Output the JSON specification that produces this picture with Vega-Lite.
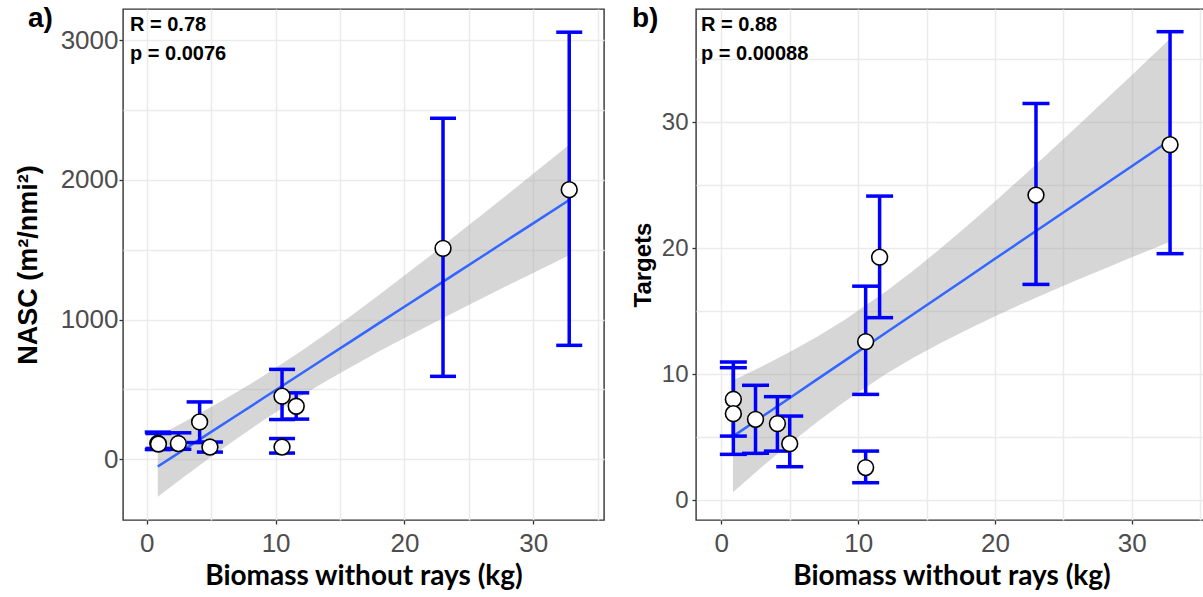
{
  "$schema": "https://vega.github.io/schema/vega-lite/v6.json",
  "background": "white",
  "padding": {"left": 13, "top": 4, "right": 0, "bottom": 0},
  "spacing": 92,
  "bounds": "flush",
  "config": {
    "view": {"stroke": "#333333", "strokeWidth": 1.4},
    "axis": {
      "grid": true, "gridColor": "#EBEBEB", "gridWidth": 1.5,
      "domain": false, "tickColor": "#333333", "tickSize": 4, "tickWidth": 1.3,
      "labelColor": "#4D4D4D", "labelFont": "Liberation Sans", "labelFontSize": 26,
      "labelOverlap": false, "labelFlush": false,
      "titleFont": "Liberation Sans", "titleFontWeight": "bold", "titleColor": "black"
    },
    "title": {"font": "Liberation Sans", "fontWeight": "bold", "fontSize": 28, "color": "black", "anchor": "start", "frame": "group", "offset": 0}
  },
  "datasets": {
    "ptsA": [
      {"biomass": 0.85, "nasc": 115, "lo": 70, "hi": 195},
      {"biomass": 0.9, "nasc": 110, "lo": 78, "hi": 185},
      {"biomass": 2.45, "nasc": 113, "lo": 72, "hi": 190},
      {"biomass": 4.1, "nasc": 268, "lo": 120, "hi": 411},
      {"biomass": 4.9, "nasc": 88, "lo": 52, "hi": 124},
      {"biomass": 10.5, "nasc": 88, "lo": 45, "hi": 149},
      {"biomass": 10.5, "nasc": 452, "lo": 285, "hi": 644},
      {"biomass": 11.6, "nasc": 380, "lo": 288, "hi": 476},
      {"biomass": 23.0, "nasc": 1510, "lo": 594, "hi": 2441},
      {"biomass": 32.8, "nasc": 1930, "lo": 816, "hi": 3057}
    ],
    "fitA": [
      {"biomass": 0.85, "fit": -51, "lo": -268, "hi": 166},
      {"biomass": 3, "fit": 77, "lo": -118, "hi": 272},
      {"biomass": 5, "fit": 197, "lo": 19, "hi": 375},
      {"biomass": 7, "fit": 316, "lo": 150, "hi": 482},
      {"biomass": 9, "fit": 435, "lo": 276, "hi": 594},
      {"biomass": 12, "fit": 614, "lo": 453, "hi": 775},
      {"biomass": 14, "fit": 734, "lo": 564, "hi": 904},
      {"biomass": 16, "fit": 853, "lo": 669, "hi": 1037},
      {"biomass": 18, "fit": 973, "lo": 771, "hi": 1175},
      {"biomass": 20, "fit": 1092, "lo": 869, "hi": 1315},
      {"biomass": 22, "fit": 1211, "lo": 964, "hi": 1458},
      {"biomass": 24, "fit": 1331, "lo": 1059, "hi": 1603},
      {"biomass": 26, "fit": 1450, "lo": 1151, "hi": 1749},
      {"biomass": 28, "fit": 1570, "lo": 1244, "hi": 1896},
      {"biomass": 30, "fit": 1689, "lo": 1334, "hi": 2044},
      {"biomass": 32.8, "fit": 1856, "lo": 1461, "hi": 2251}
    ],
    "ptsB": [
      {"biomass": 0.88, "targets": 8.02, "lo": 5.10, "hi": 10.98},
      {"biomass": 0.88, "targets": 6.88, "lo": 3.65, "hi": 10.53},
      {"biomass": 2.5, "targets": 6.43, "lo": 3.73, "hi": 9.13},
      {"biomass": 4.1, "targets": 6.09, "lo": 3.91, "hi": 8.23},
      {"biomass": 5.0, "targets": 4.50, "lo": 2.67, "hi": 6.69},
      {"biomass": 10.55, "targets": 2.60, "lo": 1.40, "hi": 3.91},
      {"biomass": 10.55, "targets": 12.6, "lo": 8.41, "hi": 17.0},
      {"biomass": 11.57, "targets": 19.3, "lo": 14.5, "hi": 24.15},
      {"biomass": 23.0, "targets": 24.23, "lo": 17.14, "hi": 31.5},
      {"biomass": 32.8, "targets": 28.23, "lo": 19.58, "hi": 37.2}
    ],
    "fitB": [
      {"biomass": 0.85, "fit": 5.08, "lo": 0.65, "hi": 9.51},
      {"biomass": 3, "fit": 6.66, "lo": 2.68, "hi": 10.64},
      {"biomass": 5, "fit": 8.13, "lo": 4.49, "hi": 11.77},
      {"biomass": 7, "fit": 9.60, "lo": 6.21, "hi": 12.99},
      {"biomass": 9, "fit": 11.07, "lo": 7.82, "hi": 14.32},
      {"biomass": 12, "fit": 13.28, "lo": 10.00, "hi": 16.56},
      {"biomass": 14, "fit": 14.75, "lo": 11.29, "hi": 18.21},
      {"biomass": 16, "fit": 16.22, "lo": 12.47, "hi": 19.97},
      {"biomass": 18, "fit": 17.69, "lo": 13.57, "hi": 21.81},
      {"biomass": 20, "fit": 19.17, "lo": 14.62, "hi": 23.72},
      {"biomass": 22, "fit": 20.64, "lo": 15.61, "hi": 25.67},
      {"biomass": 24, "fit": 22.11, "lo": 16.56, "hi": 27.66},
      {"biomass": 26, "fit": 23.58, "lo": 17.49, "hi": 29.67},
      {"biomass": 28, "fit": 25.05, "lo": 18.39, "hi": 31.71},
      {"biomass": 30, "fit": 26.52, "lo": 19.29, "hi": 33.75},
      {"biomass": 32.8, "fit": 28.58, "lo": 20.52, "hi": 36.64}
    ],
    "labA": [{"stat": "R = 0.78", "row": 0}, {"stat": "p = 0.0076", "row": 1}],
    "labB": [{"stat": "R = 0.88", "row": 0}, {"stat": "p = 0.00088", "row": 1}]
  },
  "hconcat": [
    {
      "width": 481, "height": 511,
      "title": {"text": "a)", "dx": -95, "dy": 28},
      "layer": [
        {
          "data": {"name": "fitA"},
          "mark": {"type": "area", "color": "#999999", "opacity": 0.4},
          "encoding": {
            "x": {"field": "biomass", "type": "quantitative",
              "scale": {"domain": [-1.85, 35.5], "nice": false, "zero": false},
              "axis": {"values": [0, 5, 10, 15, 20, 25, 30, 35],
                "labelExpr": "datum.value % 10 === 0 ? datum.label : ''",
                "tickOpacity": {"condition": {"test": "datum.value % 10 !== 0", "value": 0}, "value": 1},
                "labelPadding": 6, "title": "Biomass without rays (kg)",
                "titleFont": "Lato", "titleFontSize": 28, "titlePadding": 6}},
            "y": {"field": "lo", "type": "quantitative",
              "scale": {"domain": [-434, 3223], "nice": false, "zero": false},
              "axis": {"values": [0, 500, 1000, 1500, 2000, 2500, 3000],
                "labelExpr": "datum.value % 1000 === 0 ? datum.label : ''",
                "tickOpacity": {"condition": {"test": "datum.value % 1000 !== 0", "value": 0}, "value": 1},
                "format": "d", "labelPadding": 1, "title": "NASC (m²/nmi²)",
                "titleFontSize": 27, "titlePadding": 18}},
            "y2": {"field": "hi"}
          }
        },
        {
          "data": {"name": "fitA"},
          "mark": {"type": "line", "color": "#3366FF", "strokeWidth": 2.5},
          "encoding": {
            "x": {"field": "biomass", "type": "quantitative"},
            "y": {"field": "fit", "type": "quantitative"}
          }
        },
        {
          "data": {"name": "ptsA"},
          "mark": {"type": "rule", "color": "#0000FF", "strokeWidth": 3.5},
          "encoding": {
            "x": {"field": "biomass", "type": "quantitative"},
            "y": {"field": "lo", "type": "quantitative"},
            "y2": {"field": "hi"}
          }
        },
        {
          "data": {"name": "ptsA"},
          "mark": {"type": "tick", "orient": "horizontal", "color": "#0000FF", "thickness": 3.5, "size": 26, "opacity": 1},
          "encoding": {
            "x": {"field": "biomass", "type": "quantitative"},
            "y": {"field": "lo", "type": "quantitative"}
          }
        },
        {
          "data": {"name": "ptsA"},
          "mark": {"type": "tick", "orient": "horizontal", "color": "#0000FF", "thickness": 3.5, "size": 26, "opacity": 1},
          "encoding": {
            "x": {"field": "biomass", "type": "quantitative"},
            "y": {"field": "hi", "type": "quantitative"}
          }
        },
        {
          "data": {"name": "ptsA"},
          "mark": {"type": "point", "filled": true, "fill": "white", "stroke": "black", "strokeWidth": 1.6, "size": 250, "opacity": 1},
          "encoding": {
            "x": {"field": "biomass", "type": "quantitative"},
            "y": {"field": "nasc", "type": "quantitative"}
          }
        },
        {
          "data": {"name": "labA"},
          "mark": {"type": "text", "align": "left", "baseline": "alphabetic",
            "dx": 7, "font": "Liberation Sans", "fontWeight": "bold", "fontSize": 20, "color": "black"},
          "encoding": {
            "x": {"datum": -1.85, "type": "quantitative"},
            "y": {"datum": 3223, "type": "quantitative"},
            "yOffset": {"field": "row", "type": "quantitative", "scale": {"domain": [0, 1], "range": [22.4, 50.7]}, "legend": null},
            "text": {"field": "stat", "type": "nominal"}
          }
        }
      ]
    },
    {
      "width": 511, "height": 511,
      "title": {"text": "b)", "dx": -64, "dy": 28},
      "layer": [
        {
          "data": {"name": "fitB"},
          "mark": {"type": "area", "color": "#999999", "opacity": 0.4},
          "encoding": {
            "x": {"field": "biomass", "type": "quantitative",
              "scale": {"domain": [-1.85, 35.5], "nice": false, "zero": false},
              "axis": {"values": [0, 5, 10, 15, 20, 25, 30, 35],
                "labelExpr": "datum.value % 10 === 0 ? datum.label : ''",
                "tickOpacity": {"condition": {"test": "datum.value % 10 !== 0", "value": 0}, "value": 1},
                "labelPadding": 6, "title": "Biomass without rays (kg)",
                "titleFont": "Lato", "titleFontSize": 28, "titlePadding": 6}},
            "y": {"field": "lo", "type": "quantitative",
              "scale": {"domain": [-1.56, 39.0], "nice": false, "zero": false},
              "axis": {"values": [0, 5, 10, 15, 20, 25, 30, 35],
                "labelExpr": "datum.value % 10 === 0 ? datum.label : ''",
                "tickOpacity": {"condition": {"test": "datum.value % 10 !== 0", "value": 0}, "value": 1},
                "labelPadding": 4, "labelFontSize": 24, "title": "Targets",
                "titleFontSize": 24, "titlePadding": 6}},
            "y2": {"field": "hi"}
          }
        },
        {
          "data": {"name": "fitB"},
          "mark": {"type": "line", "color": "#3366FF", "strokeWidth": 2.5},
          "encoding": {
            "x": {"field": "biomass", "type": "quantitative"},
            "y": {"field": "fit", "type": "quantitative"}
          }
        },
        {
          "data": {"name": "ptsB"},
          "mark": {"type": "rule", "color": "#0000FF", "strokeWidth": 3.5},
          "encoding": {
            "x": {"field": "biomass", "type": "quantitative"},
            "y": {"field": "lo", "type": "quantitative"},
            "y2": {"field": "hi"}
          }
        },
        {
          "data": {"name": "ptsB"},
          "mark": {"type": "tick", "orient": "horizontal", "color": "#0000FF", "thickness": 3.5, "size": 27, "opacity": 1},
          "encoding": {
            "x": {"field": "biomass", "type": "quantitative"},
            "y": {"field": "lo", "type": "quantitative"}
          }
        },
        {
          "data": {"name": "ptsB"},
          "mark": {"type": "tick", "orient": "horizontal", "color": "#0000FF", "thickness": 3.5, "size": 27, "opacity": 1},
          "encoding": {
            "x": {"field": "biomass", "type": "quantitative"},
            "y": {"field": "hi", "type": "quantitative"}
          }
        },
        {
          "data": {"name": "ptsB"},
          "mark": {"type": "point", "filled": true, "fill": "white", "stroke": "black", "strokeWidth": 1.6, "size": 250, "opacity": 1},
          "encoding": {
            "x": {"field": "biomass", "type": "quantitative"},
            "y": {"field": "targets", "type": "quantitative"}
          }
        },
        {
          "data": {"name": "labB"},
          "mark": {"type": "text", "align": "left", "baseline": "alphabetic",
            "dx": 5, "font": "Liberation Sans", "fontWeight": "bold", "fontSize": 20, "color": "black"},
          "encoding": {
            "x": {"datum": -1.85, "type": "quantitative"},
            "y": {"datum": 39.0, "type": "quantitative"},
            "yOffset": {"field": "row", "type": "quantitative", "scale": {"domain": [0, 1], "range": [24, 49]}, "legend": null},
            "text": {"field": "stat", "type": "nominal"}
          }
        }
      ]
    }
  ]
}
